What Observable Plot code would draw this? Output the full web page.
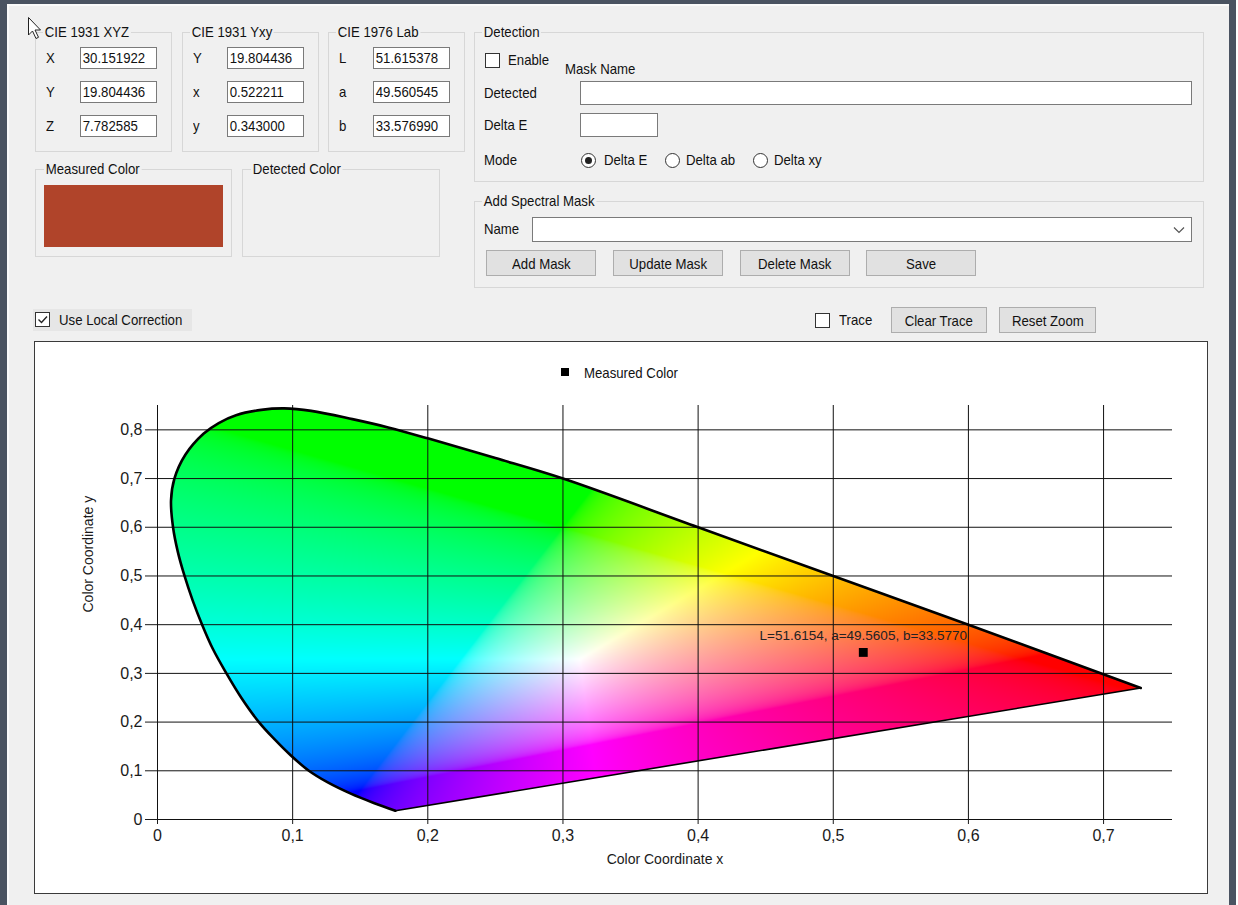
<!DOCTYPE html>
<html><head><meta charset="utf-8">
<script src="https://cdn.jsdelivr.net/npm/d3@7"></script>
<script src="https://cdn.jsdelivr.net/npm/@observablehq/plot@0.6"></script>
<style>
html,body{margin:0;padding:0;}
body{width:1238px;height:905px;position:relative;background:#f0f0f0;font-family:"Liberation Sans",Arial,sans-serif;color:#111;overflow:hidden;}
.blk{position:absolute;}
.t{position:absolute;white-space:nowrap;font-size:15px;line-height:18px;height:18px;transform:scaleX(.88);transform-origin:0 50%;}
.gt{background:#f0f0f0;padding:0 2px;margin-left:-2px;}
.grp{position:absolute;border:1px solid #d7d7d7;box-sizing:border-box;}
.tb{position:absolute;background:#fff;border:1px solid #7a7a7a;box-sizing:border-box;overflow:hidden;}
.tv{display:inline-block;font-size:15px;line-height:19px;padding-left:2px;transform:scaleX(.88);transform-origin:0 50%;white-space:nowrap;}
.btn{position:absolute;background:#e1e1e1;border:1px solid #adadad;box-sizing:border-box;display:flex;align-items:center;justify-content:center;}
.btn span{font-size:15px;transform:scaleX(.88);white-space:nowrap;}
.cb{position:absolute;width:15px;height:15px;background:#fff;border:1px solid #333;box-sizing:border-box;}
.rb{position:absolute;width:15px;height:15px;border-radius:50%;border:1px solid #333;background:#fff;box-sizing:border-box;}
#panel{position:absolute;left:34px;top:341px;width:1174px;height:553px;border:1px solid #3a3a3a;box-sizing:border-box;background:#fff;}
</style>
</head>
<body>
<div id="panel"></div>
<script>
// ---------- data ----------
const groupTitles = ["CIE 1931 XYZ", "CIE 1931 Yxy", "CIE 1976 Lab"];
const xyzLabels = ["X", "Y", "Z"];
const xyzValues = ["30.151922", "19.804436", "7.782585"];
const yxyLabels = ["Y", "x", "y"];
const yxyValues = ["19.804436", "0.522211", "0.343000"];
const labLabels = ["L", "a", "b"];
const labValues = [51.615378, 49.560545, 33.576990];

const measuredX = 0.522211;
const measuredY = 0.343000;
const legendLabel = "Measured Color";

// spectral locus outline (from the violet tip round to the red end)
const locusX = [0.176, 0.160, 0.143, 0.126, 0.112, 0.0985, 0.0865, 0.075, 0.062, 0.051, 0.041, 0.033, 0.026, 0.020, 0.015, 0.0115, 0.0100, 0.0125, 0.0206, 0.0340, 0.0453, 0.0581, 0.0768, 0.0938, 0.1137, 0.1442, 0.1707, 0.2006, 0.250, 0.300, 0.400, 0.500, 0.600, 0.7275];
const locusY = [0.018, 0.034, 0.053, 0.076, 0.100, 0.132, 0.165, 0.200, 0.250, 0.300, 0.350, 0.400, 0.450, 0.500, 0.550, 0.600, 0.655, 0.700, 0.749, 0.792, 0.814, 0.830, 0.841, 0.844, 0.839, 0.822, 0.805, 0.782, 0.742, 0.700, 0.600, 0.500, 0.400, 0.270];

const xTicks = [0, 0.1, 0.2, 0.3, 0.4, 0.5, 0.6, 0.7];
const xTickLabels = ["0", "0,1", "0,2", "0,3", "0,4", "0,5", "0,6", "0,7"];
const yTicks = [0, 0.1, 0.2, 0.3, 0.4, 0.5, 0.6, 0.7, 0.8];
const yTickLabels = ["0", "0,1", "0,2", "0,3", "0,4", "0,5", "0,6", "0,7", "0,8"];
const xTitle = "Color Coordinate x";
const yTitle = "Color Coordinate y";

// ---------- UI helpers ----------
function box(cls, l, t, w, h, extra = "") {
  const d = document.createElement("div");
  d.className = cls;
  d.style.cssText = `left:${l}px;top:${t}px;width:${w}px;height:${h}px;${extra}`;
  document.body.appendChild(d);
  return d;
}
function txt(s, l, cy, cls = "t", extra = "") {
  const d = document.createElement("div");
  d.className = cls;
  d.textContent = s;
  d.style.cssText = `left:${l}px;top:${cy - 9}px;${extra}`;
  document.body.appendChild(d);
  return d;
}
function button(s, l, t, w, h) {
  const b = box("btn", l, t, w, h);
  b.innerHTML = `<span>${s}</span>`;
}
function checkbox(l, t, checked) {
  const c = box("cb", l, t, 15, 15);
  if (checked) c.innerHTML = '<svg width="13" height="13" style="position:absolute;left:0;top:0"><path d="M2.5 6.5 L5.5 9.5 L11 3.5" fill="none" stroke="#222" stroke-width="1.4"/></svg>';
}
function radio(l, t, checked) {
  const r = box("rb", l, t, 15, 15);
  if (checked) r.innerHTML = '<div style="position:absolute;left:3px;top:3px;width:7px;height:7px;border-radius:50%;background:#222"></div>';
}

// frame
box("blk", 0, 0, 1238, 4, "background:#4a5361");
box("blk", 0, 0, 7, 905, "background:#4a5361");
box("blk", 1229, 0, 7, 905, "background:#4a5361");
box("blk", 1236, 0, 2, 905, "background:#fff");
box("blk", 7, 4, 2, 901, "background:#fafafa");
box("blk", 7, 4, 1222, 2, "background:#fafafa");

// coordinate groups
const groups = [
  {title: groupTitles[0], left: 35, labels: xyzLabels, values: xyzValues},
  {title: groupTitles[1], left: 182, labels: yxyLabels, values: yxyValues},
  {title: groupTitles[2], left: 328, labels: labLabels, values: labValues.map(v => v.toFixed(6))}
];
const rowTops = [47, 81, 115];
groups.forEach(g => {
  box("grp", g.left, 32, 137, 120);
  txt(g.title, g.left + 10, 32, "t gt");
  g.labels.forEach((lab, i) => {
    txt(lab, g.left + 11, rowTops[i] + 11);
    const tb = box("tb", g.left + 45, rowTops[i], 77, 22);
    tb.innerHTML = `<span class="tv">${g.values[i]}</span>`;
  });
});

// measured / detected colour
box("grp", 35, 169, 197, 88);
txt("Measured Color", 46, 169, "t gt");
box("blk", 44, 185, 179, 62, "background:#b0442a");
box("grp", 242, 169, 198, 88);
txt("Detected Color", 253, 169, "t gt");

// local correction
box("blk", 33, 309, 159, 22, "background:#e6e6e6");
checkbox(35, 312, true);
txt("Use Local Correction", 59, 320);

// detection group
box("grp", 474, 32, 730, 150);
txt("Detection", 484, 32, "t gt");
checkbox(485, 53, false);
txt("Enable", 508, 60);
txt("Mask Name", 565, 69);
txt("Detected", 484, 93);
box("tb", 580, 81, 612, 24);
txt("Delta E", 484, 125);
box("tb", 580, 113, 78, 24);
txt("Mode", 484, 160);
radio(581, 153, true);  txt("Delta E", 604, 160);
radio(665, 153, false); txt("Delta ab", 686, 160);
radio(753, 153, false); txt("Delta xy", 774, 160);

// spectral mask group
box("grp", 474, 201, 730, 87);
txt("Add Spectral Mask", 484, 201, "t gt");
txt("Name", 484, 229);
const combo = box("tb", 532, 217, 660, 25);
combo.innerHTML = '<svg width="12" height="8" style="position:absolute;right:6px;top:8px"><path d="M1 1.5 L6 6.5 L11 1.5" fill="none" stroke="#555" stroke-width="1.2"/></svg>';
button("Add Mask", 486, 250, 110, 26);
button("Update Mask", 613, 250, 110, 26);
button("Delete Mask", 740, 250, 110, 26);
button("Save", 866, 250, 110, 26);

// trace row
checkbox(815, 313, false);
txt("Trace", 839, 320);
button("Clear Trace", 891, 307, 96, 26);
button("Reset Zoom", 999, 307, 97, 26);

// mouse pointer
const cur = document.createElement("div");
cur.style.cssText = "position:absolute;left:27px;top:16px;";
cur.innerHTML = '<svg width="18" height="26"><path d="M1.5 1.5 L1.5 19 L5.5 15 L9 22.5 L11.5 21.3 L8 14 L13.5 14 Z" fill="#fff" stroke="#222" stroke-width="1"/></svg>';
document.body.appendChild(cur);

// ---------- chart ----------
const locus = locusX.map((x, i) => ({x, y: locusY[i]}));
const purpleLine = [locus[locus.length - 1], locus[0]];
const measured = [{
  x: measuredX, y: measuredY,
  label: `L=${labValues[0].toFixed(4)}, a=${labValues[1].toFixed(4)}, b=${labValues[2].toFixed(4)}`
}];

function xyColor(x, y) {
  y = Math.max(y, 1e-4);
  const X = x / y, Y = 1, Z = (1 - x - y) / y;
  let r = 3.2406 * X - 1.5372 * Y - 0.4986 * Z;
  let g = -0.9689 * X + 1.8758 * Y + 0.0415 * Z;
  let b = 0.0557 * X - 0.2040 * Y + 1.0570 * Z;
  r = Math.max(0, r); g = Math.max(0, g); b = Math.max(0, b);
  const m = Math.max(r, g, b) || 1;
  const gam = v => { v /= m; v = v <= 0.0031308 ? 12.92 * v : 1.055 * Math.pow(v, 1 / 2.4) - 0.055; return Math.round(255 * Math.min(1, v)); };
  return `rgb(${gam(r)},${gam(g)},${gam(b)})`;
}

const chart = Plot.plot({
  width: 1172,
  height: 551,
  marginLeft: 122,
  marginRight: 35,
  marginTop: 63,
  marginBottom: 74,
  x: {domain: [0, 0.751], label: null},
  y: {domain: [0, 0.85], label: null},
  color: {type: "identity"},
  style: {background: "#fff", fontFamily: "'Liberation Sans', Arial, sans-serif", fontSize: "16px", color: "#1a1a1a", overflow: "visible"},
  marks: [
    Plot.raster({x1: 0, x2: 0.751, y1: 0, y2: 0.85, pixelSize: 1, fill: (x, y) => xyColor(x, y)}),
    Plot.ruleX(xTicks, {stroke: "#111", strokeWidth: 1}),
    Plot.ruleY(yTicks, {stroke: "#111", strokeWidth: 1}),
    Plot.line(locus, {x: "x", y: "y", curve: "catmull-rom", stroke: "#000", strokeWidth: 2.6, strokeLinejoin: "round"}),
    Plot.line(purpleLine, {x: "x", y: "y", stroke: "#000", strokeWidth: 1.6}),
    Plot.axisX({ticks: xTicks, tickSize: 5, tickPadding: 5, label: null, fontSize: 16,
      tickFormat: d => xTickLabels[xTicks.indexOf(d)]}),
    Plot.axisY({ticks: yTicks, tickSize: 12, tickPadding: 3, label: null, fontSize: 16,
      tickFormat: d => yTickLabels[yTicks.indexOf(d)]}),
    Plot.text([xTitle], {frameAnchor: "bottom", dy: 44, fontSize: 14, text: d => d}),
    Plot.text([yTitle], {frameAnchor: "left", rotate: -90, dx: -69, fontSize: 14, text: d => d}),
    Plot.dot(measured, {x: "x", y: "y", symbol: "square", r: 5, fill: "#000", stroke: null}),
    Plot.text(measured, {x: "x", y: "y", text: "label", dy: -17, fontSize: 13.5, fill: "#222"})
  ]
});

// clip the colour raster to the locus outline drawn by the line mark
(function clipRaster() {
  const ns = "http://www.w3.org/2000/svg";
  const lineG = chart.querySelector('g[aria-label="line"]');
  const rasterG = chart.querySelector('g[aria-label="raster"]');
  if (!lineG || !rasterG) return;
  const src = lineG.querySelector("path");
  if (!src) return;
  const defs = document.createElementNS(ns, "defs");
  const cp = document.createElementNS(ns, "clipPath");
  cp.setAttribute("id", "locus-clip");
  const p = document.createElementNS(ns, "path");
  p.setAttribute("d", src.getAttribute("d") + "Z");
  if (lineG.getAttribute("transform")) p.setAttribute("transform", lineG.getAttribute("transform"));
  cp.appendChild(p);
  defs.appendChild(cp);
  chart.insertBefore(defs, chart.firstChild);
  const wrap = document.createElementNS(ns, "g");
  rasterG.parentNode.insertBefore(wrap, rasterG);
  wrap.appendChild(rasterG);
  wrap.setAttribute("clip-path", "url(#locus-clip)");
})();

chart.style.position = "absolute";
chart.style.left = "0px";
chart.style.top = "0px";
const panel = document.getElementById("panel");
panel.appendChild(chart);

// legend inside the chart panel
const leg = document.createElement("div");
leg.style.cssText = "position:absolute;left:526px;top:21px;height:18px;display:flex;align-items:center;";
leg.innerHTML = `<div style="width:8px;height:8px;background:#000;margin-right:15px"></div><span class="tv" style="padding:0;font-size:15px">${legendLabel}</span>`;
panel.appendChild(leg);
</script>
</body></html>
